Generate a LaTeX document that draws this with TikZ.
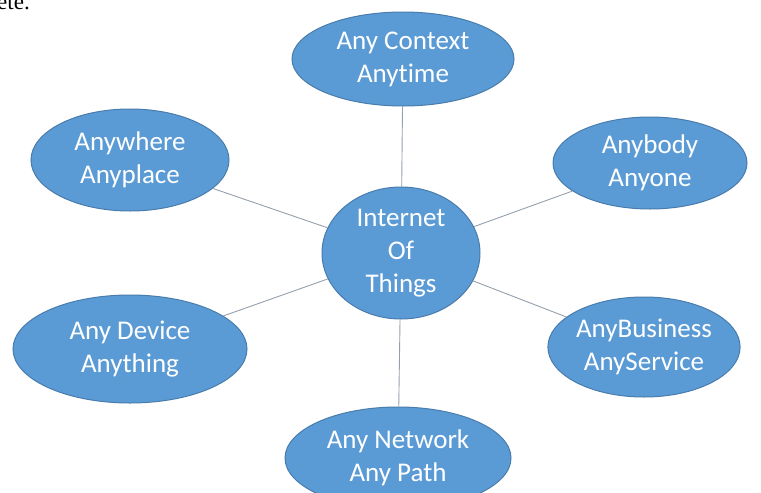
\documentclass[tikz,border=0pt]{standalone}
\usepackage{fontspec}
\setmainfont{Carlito}[Ligatures=NoCommon]
\newfontfamily\serifpart{Liberation Serif}
\usetikzlibrary{shapes.geometric}
\definecolor{bubblefill}{RGB}{91,155,213}
\definecolor{bubbleedge}{RGB}{72,124,172}
\definecolor{linkgray}{RGB}{150,160,172}
\tikzset{
  bubble/.style={ellipse, fill=bubblefill, draw=bubbleedge, line width=1pt,
    text=white, align=center, inner sep=0pt,
    font=\fontsize{27}{33}\selectfont},
  link/.style={draw=linkgray, line width=0.9pt}
}
\begin{document}
\begin{tikzpicture}[x=1pt,y=-1pt]
\useasboundingbox (0,0) rectangle (761,493);
\clip (0,0) rectangle (761,493);
\fill[white] (0,0) rectangle (761,493);
\node[anchor=base west, inner sep=0pt, font=\serifpart\fontsize{23}{26}\selectfont] (frag) at (-3,9) {ete.};
\node[bubble, minimum width=222pt, minimum height=94pt] (ctx) at (403,59) {Any Context\\Anytime};
\node[bubble, minimum width=198pt, minimum height=102pt] (where) at (130,160) {Anywhere\\Anyplace};
\node[bubble, minimum width=194pt, minimum height=92pt] (body) at (650,163) {Anybody\\Anyone};
\node[bubble, minimum width=234pt, minimum height=108pt] (dev) at (130,349) {Any Device\\Anything};
\node[bubble, minimum width=190pt, minimum height=100pt] (biz) at (644,347) {AnyBusiness\\AnyService};
\node[bubble, minimum width=226pt, minimum height=102pt] (net) at (398,458) {Any Network\\Any Path};
\node[bubble, minimum width=158pt, minimum height=132pt] (iot) at (401,253) {Internet\\Of\\Things};
\draw[link] (iot) -- (ctx);
\draw[link] (iot) -- (where);
\draw[link] (iot) -- (body);
\draw[link] (iot) -- (dev);
\draw[link] (iot) -- (biz);
\draw[link] (iot) -- (net);
\end{tikzpicture}
\end{document}
